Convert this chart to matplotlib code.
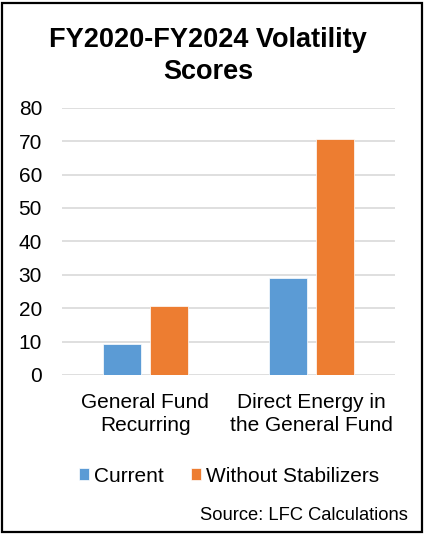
import matplotlib.pyplot as plt
import numpy as np
from matplotlib.patches import Rectangle

plt.rcParams['font.family'] = ['Liberation Sans', 'DejaVu Sans']

categories = ["General Fund\nRecurring", "Direct Energy in\nthe General Fund"]
current = [9.2, 29.1]
without_stabilizers = [20.6, 70.6]
series_names = ["Current", "Without Stabilizers"]
yticks = [0, 10, 20, 30, 40, 50, 60, 70, 80]

blue = '#5B9BD5'
orange = '#ED7D31'

fig = plt.figure(figsize=(4.25, 5.34), dpi=100)
W, H = 425, 534
ax = fig.add_axes([62 / W, 1 - 375 / H, 333 / W, (375 - 107.7) / H])

x = np.arange(len(categories))
w = 0.228
off = 0.141
b1 = ax.bar(x - off, current, width=w, color=blue, edgecolor='white', linewidth=0.5, zorder=3)
b2 = ax.bar(x + off, without_stabilizers, width=w, color=orange, edgecolor='white', linewidth=0.5, zorder=3)

ax.set_xlim(-0.5, 1.5)
ax.set_ylim(0, 80)
ax.set_yticks(yticks)
ax.set_yticklabels([str(t) for t in yticks], fontsize=15)
ax.set_xticks(x)
ax.set_xticklabels(categories, fontsize=15, linespacing=1.27)
ax.tick_params(length=0)
ax.tick_params(axis='y', pad=14.4)
ax.tick_params(axis='x', pad=13)
ax.grid(axis='y', color='#D9D9D9', linewidth=1.2, zorder=0)
for s in ax.spines.values():
    s.set_visible(False)

fig.text(208 / W, 1 - 56 / H, "FY2020-FY2024 Volatility\nScores", ha='center', va='center',
         fontsize=19.5, fontweight='bold', linespacing=1.3)

fig.legend([b1, b2], series_names, loc='center', bbox_to_anchor=(229 / W, 1 - 476 / H),
           ncol=2, frameon=False, fontsize=15, handlelength=0.48, handleheight=0.48,
           handletextpad=0.24, columnspacing=1.3)

fig.text(408 / W, 1 - 515 / H, "Source: LFC Calculations", ha='right', va='center', fontsize=13.2)

fig.patches.append(Rectangle((2 / W, 2 / H), 420 / W, 529 / H, transform=fig.transFigure,
                             fill=False, edgecolor='black', linewidth=1.6))

fig.savefig('out.png', dpi=100)
